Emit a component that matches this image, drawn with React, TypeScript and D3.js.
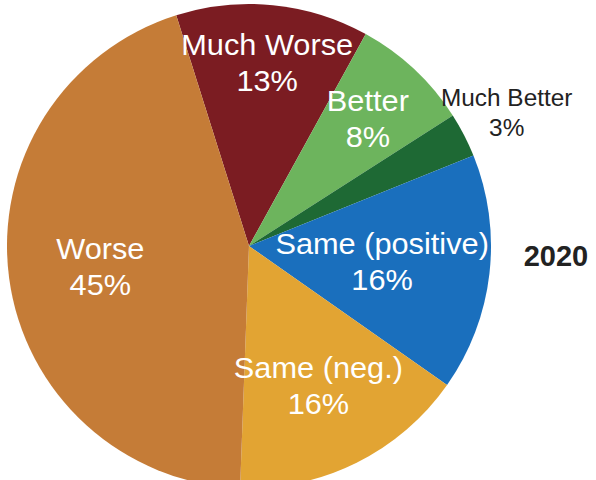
import React from "react";
import * as d3 from "d3";

const categories = ["Much Worse", "Better", "Much Better", "Same (positive)", "Same (neg.)", "Worse"];
const values = [13, 8, 3, 16, 16, 45];
const percentLabels = ["13%", "8%", "3%", "16%", "16%", "45%"];
const yearLabel = "2020";

const colors: Record<string, string> = {
  "Much Worse": "#7b1c22",
  Better: "#6db45d",
  "Much Better": "#1e6934",
  "Same (positive)": "#1a6fbd",
  "Same (neg.)": "#e2a433",
  Worse: "#c57c37",
};
const labelRadius: Record<string, number> = {
  "Much Worse": 184,
  Better: 174,
  "Much Better": 290,
  "Same (positive)": 134,
  "Same (neg.)": 156,
  Worse: 150,
};

const W = 596;
const H = 480;
const cx = 249;
const cy = 246;
const R = 242;
const start = (-17.5 * Math.PI) / 180;

export default function App() {
  const data = categories.map((c, i) => ({ name: c, value: values[i], pct: percentLabels[i] }));
  const pie = d3
    .pie<any>()
    .sort(null)
    .value((d) => d.value)
    .startAngle(start)
    .endAngle(start + 2 * Math.PI);
  const arcs = pie(data);
  const arc = d3.arc<any>().innerRadius(0).outerRadius(R);
  const font = "'Liberation Sans', Arial, sans-serif";

  return (
    <svg
      width={W}
      height={H}
      style={{ position: "fixed", left: 0, top: 0, background: "#fff" }}
    >
      <g transform={`translate(${cx},${cy})`}>
        {arcs.map((a) => (
          <path key={a.data.name} d={arc(a) as string} fill={colors[a.data.name]} />
        ))}
        {arcs.map((a) => {
          const mid = (a.startAngle + a.endAngle) / 2;
          const r = labelRadius[a.data.name];
          const x = Math.sin(mid) * r;
          const y = -Math.cos(mid) * r;
          const outside = a.data.name === "Much Better";
          const fs = outside ? 23 : 29;
          const gap = outside ? 30 : 36;
          const capH = fs * 0.72;
          return (
            <text
              key={"l" + a.data.name}
              textAnchor="middle"
              fontFamily={font}
              fontSize={fs}
              fill={outside ? "#222" : "#fff"}
              transform={`translate(${x},${y}) scale(1.06,1)`}
            >
              <tspan x={0} y={-gap / 2 + capH / 2}>
                {a.data.name}
              </tspan>
              <tspan x={0} y={gap / 2 + capH / 2}>
                {a.data.pct}
              </tspan>
            </text>
          );
        })}
      </g>
      <text
        x={cx + R + 65}
        y={266}
        textAnchor="middle"
        fontFamily={font}
        fontWeight="bold"
        fontSize={29}
        fill="#222"
      >
        {yearLabel}
      </text>
    </svg>
  );
}
